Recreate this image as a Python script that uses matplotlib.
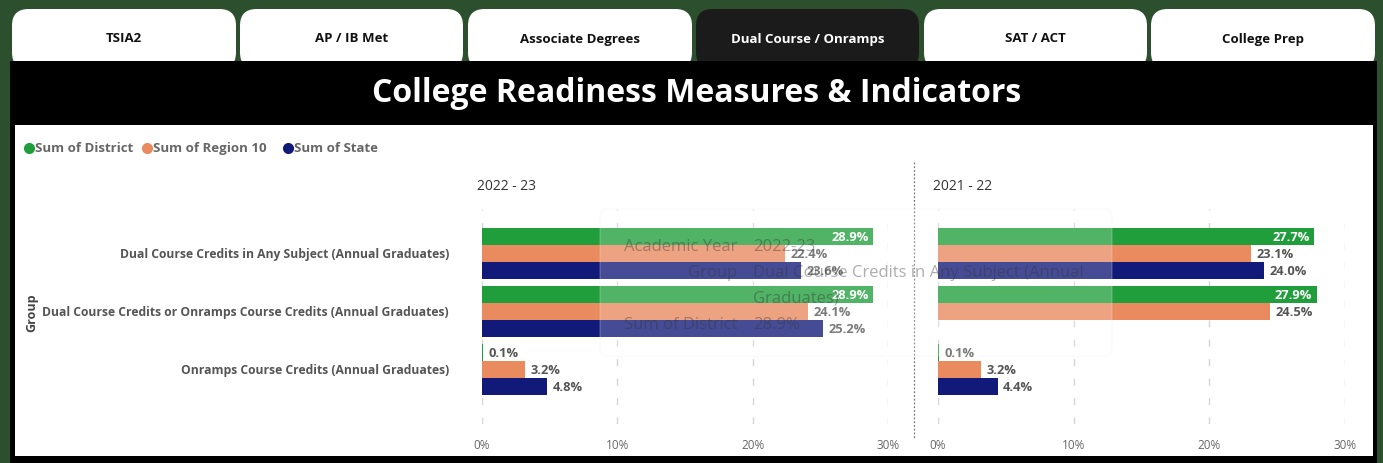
import numpy as np
import matplotlib
matplotlib.use("Agg")
import matplotlib.pyplot as plt
from matplotlib.patches import Rectangle, FancyBboxPatch
from matplotlib.lines import Line2D

plt.rcParams['font.family'] = ['Open Sans', 'DejaVu Sans']

# ---- data ----
tabs = ["TSIA2", "AP / IB Met", "Associate Degrees", "Dual Course / Onramps", "SAT / ACT", "College Prep"]
active_tab = 3
groups = [
    "Dual Course Credits in Any Subject (Annual Graduates)",
    "Dual Course Credits or Onramps Course Credits (Annual Graduates)",
    "Onramps Course Credits (Annual Graduates)",
]
series_names = ["Sum of District", "Sum of Region 10", "Sum of State"]
years = ["2022-23", "2021-22"]
district = {"2022-23": [28.9, 28.9, 0.1], "2021-22": [27.7, 27.9, 0.1]}
region10 = {"2022-23": [22.4, 24.1, 3.2], "2021-22": [23.1, 24.5, 3.2]}
state = {"2022-23": [23.6, 25.2, 4.8], "2021-22": [24.0, np.nan, 4.4]}
x_ticks = [0, 10, 20, 30]
colors = ["#1f9e3b", "#e98a5f", "#111a78"]

W, H = 1383, 464
fig = plt.figure(figsize=(W / 100, H / 100), dpi=100)
fig.patch.set_facecolor("#2c4f2e")


def fx(x):
    return x / W


def fy(y):
    return 1 - y / H


def rect(x0, y0, x1, y1, **kw):
    r = Rectangle((fx(x0), fy(y1)), fx(x1) - fx(x0), fy(y0) - fy(y1),
                  transform=fig.transFigure, **kw)
    fig.add_artist(r)
    return r


# ---- tabs ----
tab_edges = [(12, 236), (240, 463), (468, 692), (696, 919), (924, 1147), (1151, 1375)]
for i, (name, (x0, x1)) in enumerate(zip(tabs, tab_edges)):
    fc = "#1b1b1b" if i == active_tab else "white"
    tc = "white" if i == active_tab else "#111111"
    p = FancyBboxPatch((fx(x0), fy(70)), fx(x1) - fx(x0), fy(10) - fy(70),
                       boxstyle="round,pad=0,rounding_size=0.012",
                       transform=fig.transFigure, facecolor=fc, edgecolor="none",
                       mutation_aspect=W / H, zorder=1)
    fig.add_artist(p)
    fig.text(fx((x0 + x1) / 2), fy(39), name, ha="center", va="center",
             fontsize=9.5, fontweight="bold", color=tc, zorder=2)

# ---- title bar and panel ----
rect(10, 62, 1377, 464, facecolor="black", edgecolor="none", zorder=3)
fig.text(fx(697), fy(93), "College Readiness Measures & Indicators", ha="center",
         va="center", fontsize=23, fontweight="bold", color="white", zorder=4)
rect(15, 126, 1373, 457, facecolor="white", edgecolor="none", zorder=3)

# ---- legend ----
leg_x = [29, 147, 288]
for lx, name, c in zip(leg_x, series_names, colors):
    fig.add_artist(Line2D([fx(lx)], [fy(149)], transform=fig.transFigure,
                          marker="o", markersize=8, color=c, markeredgewidth=0,
                          linestyle="none", zorder=5))
    fig.text(fx(lx + 6), fy(149), name, ha="left", va="center", fontsize=9.5,
             fontweight="bold", color="#666666", zorder=5)

# ---- axis title ----
fig.text(fx(32), fy(313), "Group", rotation=90, ha="center", va="center",
         fontsize=9, fontweight="bold", color="#444444", zorder=5)

# ---- panels ----
panel_x = [(482, 888), (938, 1345)]
y_top, y_bot = 210, 425
cat_y = np.arange(len(groups))
bh = 0.293
offsets = [-bh, 0, bh]

for yi, (year, (x0, x1)) in enumerate(zip(years, panel_x)):
    ax = fig.add_axes([fx(x0), fy(y_bot), fx(x1) - fx(x0), fy(y_top) - fy(y_bot)])
    ax.set_zorder(4)
    ax.patch.set_alpha(0)
    ax.set_xlim(0, 30)
    ax.set_ylim(2.94, -0.767)
    for s in ax.spines.values():
        s.set_visible(False)
    ax.set_xticks(x_ticks)
    ax.set_xticklabels([f"{t}%" for t in x_ticks], color="#666666", fontsize=8.5)
    ax.tick_params(axis="x", length=0, pad=10)
    ax.set_yticks([])
    ax.grid(axis="x", color="#d4d4d4", linestyle=(0, (5, 9)), linewidth=1)
    ax.set_axisbelow(True)

    vals = [district[year], region10[year], state[year]]
    for si, (v, c, off) in enumerate(zip(vals, colors, offsets)):
        v = np.array(v, dtype=float)
        ax.barh(cat_y + off, v, height=bh, color=c, edgecolor="none")
        for ci, val in enumerate(v):
            if np.isnan(val):
                continue
            if si == 0 and val > 20:
                ax.annotate(f"{val:.1f}%", (val, ci + off), xytext=(-3, 0),
                            textcoords="offset points", ha="right", va="center",
                            fontsize=9.3, fontweight="bold", color="white")
            else:
                ax.annotate(f"{val:.1f}%", (val, ci + off), xytext=(4, 0),
                            textcoords="offset points", ha="left", va="center",
                            fontsize=9.3, fontweight="bold", color="#555555")

    fig.text(fx(x0 - 5), fy(186), year.replace("-", " - "),
             ha="left", va="center", fontsize=10, color="#333333", zorder=5)

    if yi == 0:
        for g, cy in zip(groups, cat_y):
            yp = ax.transData.transform((0, cy))[1]
            fig.text(fx(449), yp / fig.dpi / (H / 100), g, ha="right", va="center",
                     fontsize=8.7, fontweight="bold", color="#555555", zorder=5)

# divider between years
fig.add_artist(Line2D([fx(914), fx(914)], [fy(163), fy(440)],
                      transform=fig.transFigure, color="#777777",
                      linestyle=(0, (1.5, 1.5)), linewidth=0.9, zorder=5))

# ---- hover tooltip ----
tip = FancyBboxPatch((fx(600), fy(357)), fx(1112) - fx(600), fy(210) - fy(357),
                     boxstyle="round,pad=0,rounding_size=0.006",
                     transform=fig.transFigure, facecolor="white", alpha=0.22,
                     edgecolor="#eeeeee", linewidth=1.0, mutation_aspect=W / H,
                     zorder=20)
fig.add_artist(tip)
tip_keys = ["Academic Year", "Group", "", "Sum of District"]
tip_vals = ["2022-23", "Dual Course Credits in Any Subject (Annual", "Graduates)", "28.9%"]
for i, (k, v) in enumerate(zip(tip_keys, tip_vals)):
    yy = fy(247 + 26 * i)
    if k:
        fig.text(fx(737), yy, k, ha="right", va="center", fontsize=12,
                 color="#333333", alpha=0.4, zorder=21)
    fig.text(fx(753), yy, v, ha="left", va="center", fontsize=12,
             color="#333333", alpha=0.4, zorder=21)

fig.savefig("out.png", dpi=100, facecolor=fig.get_facecolor())
